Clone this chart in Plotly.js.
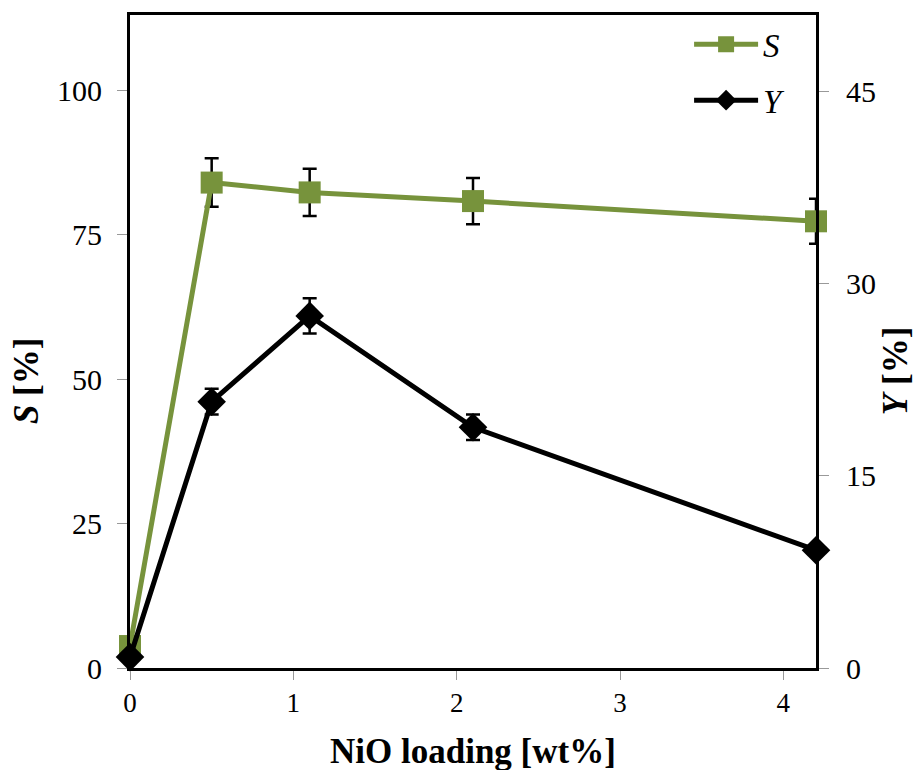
<!DOCTYPE html>
<html>
<head>
<meta charset="utf-8">
<script src="https://cdn.plot.ly/plotly-3.0.1.min.js"></script>
<style>html,body{margin:0;padding:0;background:#fff;}#chart{width:922px;height:770px;}</style>
</head>
<body>
<div id="chart"></div>
<script>
const loading = [0, 0.5, 1.1, 2.1, 4.2];
const selectivity = [3.8, 84.0, 82.3, 80.8, 77.3];
const selectivityErr = [0, 4.2, 4.1, 4.0, 3.9];
const yieldVals = [0.85, 20.8, 27.5, 18.8, 9.2];
const yieldErr = [0, 1.0, 1.37, 1.0, 0];
const xTicks = [0, 1, 2, 3, 4];
const sTicks = [0, 25, 50, 75, 100];
const yTicks = [0, 15, 30, 45];

const serif = 'Liberation Serif, Times New Roman, serif';
const green = '#77933C';

const traces = [
  {
    x: loading, y: selectivity, name: '<i>S</i>', type: 'scatter', mode: 'lines+markers',
    yaxis: 'y', legendgroup: 'S',
    line: {color: green, width: 5},
    marker: {symbol: 'square', size: 22, color: green},
    error_y: {type: 'data', array: selectivityErr, visible: true, color: '#000', thickness: 2.5, width: 7},
    cliponaxis: false
  },
  {
    x: loading, y: yieldVals, name: '<i>Y</i>', type: 'scatter', mode: 'lines+markers',
    yaxis: 'y2', legendgroup: 'Y',
    line: {color: '#000', width: 5},
    marker: {symbol: 'diamond', size: 22, color: '#000'},
    error_y: {type: 'data', array: yieldErr, visible: true, color: '#000', thickness: 2.5, width: 7},
    cliponaxis: false
  }
];

const layout = {
  width: 922, height: 770,
  margin: {l: 130, r: 106, t: 15, b: 102},
  paper_bgcolor: '#fff', plot_bgcolor: '#fff',
  font: {family: serif, color: '#000'},
  showlegend: true,
  legend: {
    x: 0.815, y: 0.998, xanchor: 'left', yanchor: 'top',
    font: {family: serif, size: 33, color: '#000'},
    bgcolor: 'rgba(0,0,0,0)', tracegroupgap: 10, itemwidth: 64
  },
  xaxis: {
    range: [0, 4.2], tickvals: xTicks, ticktext: xTicks.map(String),
    showgrid: false, zeroline: false,
    showline: true, linecolor: '#000', linewidth: 3, mirror: true,
    ticks: 'outside', ticklen: 9, tickwidth: 1, tickcolor: '#999',
    tickfont: {family: serif, size: 27, color: '#000'},
    automargin: false
  },
  yaxis: {
    range: [0, 113], tickvals: sTicks, ticktext: sTicks.map(String),
    showgrid: false, zeroline: false,
    showline: true, linecolor: '#000', linewidth: 3,
    ticks: 'outside', ticklen: 10, tickwidth: 1, tickcolor: '#999',
    tickfont: {family: serif, size: 30, color: '#000'},
    ticklabelstandoff: 9,
    automargin: false
  },
  yaxis2: {
    range: [0, 51], tickvals: yTicks, ticktext: yTicks.map(String),
    overlaying: 'y', side: 'right',
    showgrid: false, zeroline: false,
    showline: true, linecolor: '#000', linewidth: 3,
    ticks: 'outside', ticklen: 10, tickwidth: 1, tickcolor: '#999',
    tickfont: {family: serif, size: 30, color: '#000'},
    ticklabelstandoff: 11,
    automargin: false
  },
  annotations: [
    {text: '<b>NiO loading [wt%]</b>', xref: 'paper', yref: 'paper', x: 0.5, y: -0.095,
     xanchor: 'center', yanchor: 'top', showarrow: false, font: {family: serif, size: 35, color: '#000'}},
    {text: '<b><i>S</i> [%]</b>', xref: 'paper', yref: 'paper', x: -0.151, y: 0.44,
     xanchor: 'center', yanchor: 'middle', textangle: -90, showarrow: false, font: {family: serif, size: 35, color: '#000'}},
    {text: '<b><i>Y</i> [%]</b>', xref: 'paper', yref: 'paper', x: 1.117, y: 0.455,
     xanchor: 'center', yanchor: 'middle', textangle: -90, showarrow: false, font: {family: serif, size: 35, color: '#000'}}
  ]
};

Plotly.newPlot('chart', traces, layout, {displayModeBar: false, staticPlot: true});
</script>
</body>
</html>
